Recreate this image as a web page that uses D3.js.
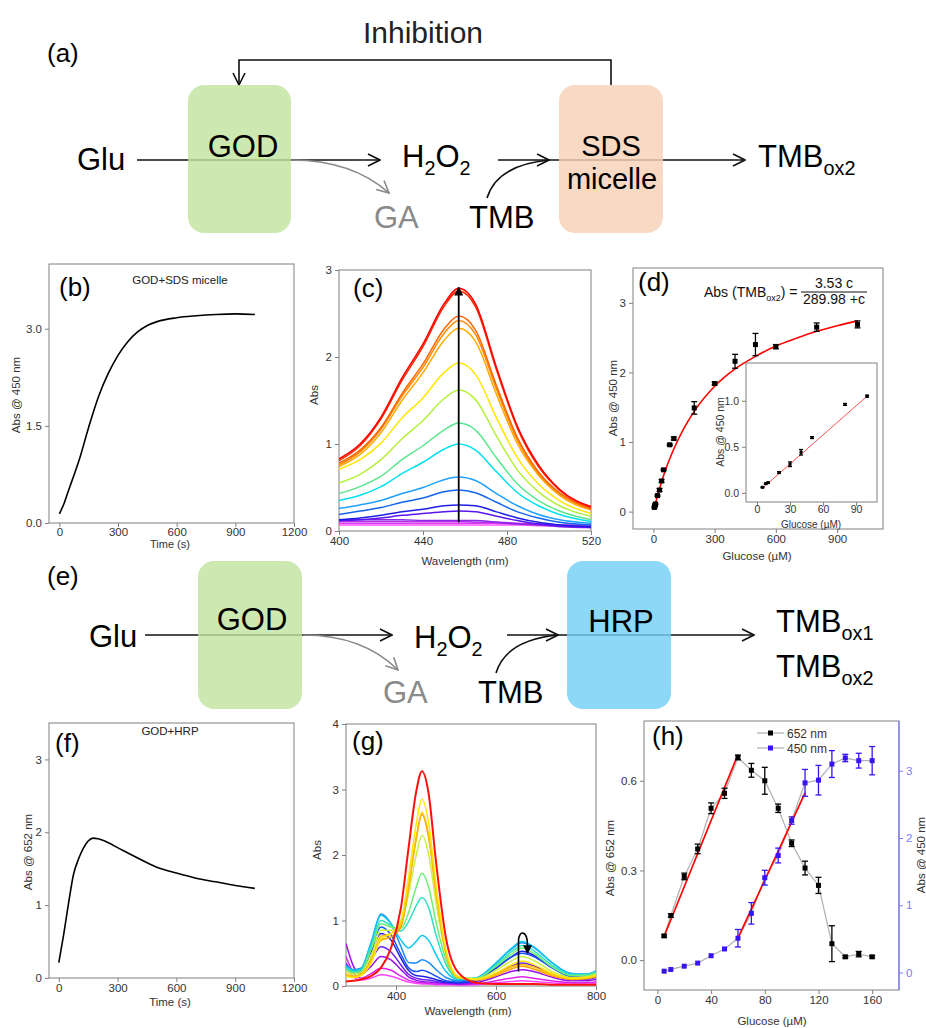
<!DOCTYPE html>
<html>
<head>
<meta charset="utf-8">
<script src="https://cdn.jsdelivr.net/npm/d3@7"></script>
<style>
  body { margin: 0; background: #fff; }
  svg { font-family: "Liberation Sans", Arial, sans-serif; }
</style>
</head>
<body>
<svg id="fig" width="926" height="1028"></svg>
<script>
// ---------- data ----------

// (b) kinetics GOD + SDS micelle, abs @ 450 nm
const bTime = [0, 25, 50, 75, 100, 150, 200, 250, 300, 350, 400, 450, 500, 600, 700, 800, 900, 1000]
const bAbs = [0.14, 0.31, 0.53, 0.74, 0.96, 1.48, 1.95, 2.31, 2.59, 2.8, 2.95, 3.05, 3.11, 3.17, 3.2, 3.22, 3.23, 3.22]

// (c) spectra, highest first
const cWave = [400, 410, 420, 430, 440, 450, 457, 465, 475, 485, 495, 505, 520]
const cSpectra = [
  [0.83, 1.00, 1.31, 1.76, 2.15, 2.61, 2.79, 2.61, 1.88, 1.20, 0.76, 0.48, 0.28],
  [0.81, 0.98, 1.29, 1.73, 2.12, 2.58, 2.76, 2.58, 1.85, 1.18, 0.74, 0.47, 0.27],
  [0.78, 0.93, 1.19, 1.58, 1.92, 2.32, 2.47, 2.31, 1.67, 1.07, 0.68, 0.44, 0.26],
  [0.76, 0.91, 1.17, 1.55, 1.88, 2.27, 2.42, 2.26, 1.63, 1.04, 0.66, 0.43, 0.25],
  [0.74, 0.88, 1.13, 1.50, 1.82, 2.19, 2.33, 2.18, 1.57, 1.00, 0.64, 0.41, 0.24],
  [0.71, 0.82, 1.01, 1.30, 1.53, 1.82, 1.93, 1.80, 1.30, 0.84, 0.54, 0.35, 0.20],
  [0.55, 0.65, 0.82, 1.06, 1.27, 1.52, 1.62, 1.51, 1.09, 0.70, 0.45, 0.29, 0.17],
  [0.43, 0.51, 0.63, 0.82, 0.98, 1.16, 1.24, 1.16, 0.84, 0.54, 0.35, 0.23, 0.13],
  [0.35, 0.41, 0.51, 0.66, 0.79, 0.94, 1.00, 0.93, 0.68, 0.44, 0.29, 0.19, 0.11],
  [0.26, 0.30, 0.35, 0.43, 0.50, 0.59, 0.62, 0.58, 0.43, 0.29, 0.19, 0.13, 0.09],
  [0.19, 0.23, 0.27, 0.33, 0.38, 0.45, 0.47, 0.44, 0.33, 0.22, 0.15, 0.10, 0.07],
  [0.13, 0.15, 0.18, 0.22, 0.25, 0.29, 0.30, 0.29, 0.22, 0.15, 0.10, 0.07, 0.05],
  [0.12, 0.13, 0.15, 0.18, 0.20, 0.22, 0.23, 0.22, 0.17, 0.12, 0.08, 0.06, 0.04],
  [0.13, 0.13, 0.13, 0.13, 0.12, 0.12, 0.12, 0.12, 0.10, 0.08, 0.07, 0.05, 0.04],
  [0.11, 0.11, 0.11, 0.11, 0.11, 0.11, 0.11, 0.10, 0.10, 0.09, 0.08, 0.07, 0.06],
  [0.09, 0.09, 0.09, 0.09, 0.09, 0.09, 0.09, 0.09, 0.09, 0.08, 0.08, 0.07, 0.07],
  [0.07, 0.07, 0.07, 0.07, 0.07, 0.07, 0.07, 0.07, 0.07, 0.07, 0.06, 0.06, 0.06]
]
const cColors = ["#ff0000", "#ff2a00", "#ff6600", "#ff8800", "#ffaa00", "#ffe600", "#b4f03c", "#5ae68c",
  "#00e0f0", "#1ea0ff", "#1464f0", "#1e1ee6", "#5a14f0", "#8c28e6", "#b432e6", "#dc3cf0", "#ff50ff"]

// (d) calibration, abs @ 450 nm vs glucose
const dGlu = [5, 8, 10, 20, 30, 40, 50, 80, 100, 200, 300, 400, 500, 600, 800, 1000]
const dAbs = [0.06, 0.09, 0.11, 0.23, 0.31, 0.44, 0.6, 0.96, 1.05, 1.49, 1.84, 2.16, 2.4, 2.37, 2.65, 2.69]
const dErr = [0.01, 0.01, 0.01, 0.01, 0.02, 0.02, 0.01, 0.01, 0.02, 0.09, 0.02, 0.1, 0.16, 0.03, 0.06, 0.05]
const dFitGlu = [5, 25, 50, 100, 150, 200, 300, 400, 500, 600, 700, 800, 900, 1000]
const dFitAbs = [0.06, 0.28, 0.52, 0.9, 1.2, 1.44, 1.8, 2.05, 2.23, 2.38, 2.49, 2.59, 2.67, 2.74]
const insetGlu = [5, 8, 10, 20, 30, 40, 50, 80, 100]
const insetAbs = [0.06, 0.1, 0.11, 0.22, 0.31, 0.44, 0.6, 0.96, 1.05]
const insetErr = [0.005, 0.005, 0.005, 0.01, 0.025, 0.03, 0.01, 0.01, 0.01]
const insetFitGlu = [5, 100]
const insetFitAbs = [0.05, 1.05]

// (f) kinetics GOD + HRP, abs @ 652 nm
const fTime = [0, 25, 50, 75, 100, 125, 150, 175, 200, 250, 300, 400, 500, 600, 700, 800, 900, 1000]
const fAbs = [0.21, 0.6, 1.03, 1.42, 1.63, 1.78, 1.88, 1.92, 1.91, 1.86, 1.79, 1.65, 1.52, 1.44, 1.37, 1.32, 1.27, 1.23]

// (g) spectra, earliest first
const gWave = [300, 315, 330, 350, 370, 390, 410, 425, 440, 452, 465, 480, 500, 525, 560, 600, 630, 652, 675, 710, 750, 780, 800]
const gSpectra = [
  [0.30, 0.14, 0.09, 0.12, 0.17, 0.15, 0.10, 0.06, 0.04, 0.03, 0.03, 0.02, 0.02, 0.02, 0.02, 0.05, 0.07, 0.08, 0.07, 0.05, 0.03, 0.03, 0.04],
  [0.45, 0.20, 0.12, 0.19, 0.27, 0.24, 0.15, 0.09, 0.06, 0.05, 0.04, 0.03, 0.03, 0.02, 0.03, 0.08, 0.12, 0.14, 0.12, 0.08, 0.05, 0.05, 0.06],
  [0.65, 0.30, 0.18, 0.30, 0.45, 0.40, 0.25, 0.14, 0.09, 0.07, 0.06, 0.05, 0.04, 0.03, 0.05, 0.14, 0.22, 0.25, 0.22, 0.14, 0.08, 0.08, 0.10],
  [0.35, 0.22, 0.20, 0.40, 0.60, 0.52, 0.32, 0.18, 0.12, 0.10, 0.09, 0.07, 0.05, 0.04, 0.07, 0.19, 0.30, 0.35, 0.31, 0.19, 0.10, 0.10, 0.13],
  [0.28, 0.22, 0.24, 0.52, 0.80, 0.70, 0.42, 0.24, 0.16, 0.15, 0.13, 0.10, 0.06, 0.05, 0.09, 0.27, 0.44, 0.53, 0.47, 0.29, 0.15, 0.15, 0.18],
  [0.30, 0.23, 0.25, 0.58, 0.90, 0.78, 0.48, 0.28, 0.22, 0.24, 0.21, 0.15, 0.08, 0.06, 0.10, 0.28, 0.44, 0.50, 0.45, 0.29, 0.15, 0.15, 0.19],
  [0.32, 0.25, 0.27, 0.66, 1.10, 0.95, 0.60, 0.36, 0.35, 0.40, 0.36, 0.25, 0.13, 0.08, 0.12, 0.35, 0.56, 0.66, 0.59, 0.37, 0.19, 0.18, 0.23],
  [0.30, 0.24, 0.26, 0.65, 1.08, 0.95, 0.70, 0.58, 0.68, 0.77, 0.70, 0.48, 0.22, 0.10, 0.12, 0.35, 0.57, 0.68, 0.60, 0.37, 0.19, 0.18, 0.22],
  [0.28, 0.22, 0.24, 0.60, 1.00, 0.92, 0.84, 0.98, 1.22, 1.35, 1.20, 0.78, 0.33, 0.11, 0.12, 0.32, 0.52, 0.62, 0.54, 0.33, 0.17, 0.17, 0.21],
  [0.26, 0.20, 0.22, 0.55, 0.95, 0.90, 0.88, 1.12, 1.50, 1.72, 1.52, 0.98, 0.40, 0.12, 0.12, 0.30, 0.48, 0.58, 0.50, 0.30, 0.16, 0.16, 0.20],
  [0.22, 0.18, 0.20, 0.45, 0.85, 0.85, 0.95, 1.40, 1.98, 2.30, 2.02, 1.28, 0.48, 0.13, 0.11, 0.24, 0.38, 0.45, 0.39, 0.23, 0.13, 0.14, 0.18],
  [0.16, 0.14, 0.17, 0.38, 0.70, 0.75, 0.90, 1.50, 2.22, 2.62, 2.28, 1.43, 0.50, 0.13, 0.09, 0.16, 0.26, 0.30, 0.26, 0.16, 0.10, 0.11, 0.14],
  [0.18, 0.15, 0.18, 0.40, 0.76, 0.80, 0.94, 1.52, 2.25, 2.65, 2.32, 1.45, 0.52, 0.14, 0.10, 0.18, 0.29, 0.33, 0.29, 0.18, 0.11, 0.12, 0.15],
  [0.15, 0.13, 0.16, 0.35, 0.72, 0.80, 1.00, 1.65, 2.45, 2.85, 2.50, 1.55, 0.55, 0.14, 0.10, 0.20, 0.32, 0.38, 0.33, 0.20, 0.12, 0.13, 0.16],
  [0.07, 0.08, 0.10, 0.15, 0.28, 0.58, 1.20, 2.10, 2.95, 3.28, 2.95, 1.90, 0.73, 0.20, 0.05, 0.03, 0.03, 0.03, 0.03, 0.02, 0.02, 0.02, 0.02]
]
const gColors = ["#ff44ff", "#dd22ee", "#9a10f0", "#6a20f5", "#2020e0", "#1850ff", "#1a8cff", "#10c8f0",
  "#30e0c0", "#70ee70", "#c8f040", "#ffa000", "#ffbf00", "#ffe500", "#ff1010"]

// (h) abs @ 652 nm and @ 450 nm vs glucose
const hGlu = [5, 10, 20, 30, 40, 50, 60, 70, 80, 90, 100, 110, 120, 130, 140, 150, 160]
const h652 = [0.081, 0.149, 0.28, 0.372, 0.508, 0.558, 0.678, 0.635, 0.6, 0.508, 0.391, 0.308, 0.25, 0.055, 0.011, 0.02, 0.011]
const h652Err = [0.004, 0.006, 0.011, 0.016, 0.018, 0.017, 0.008, 0.023, 0.045, 0.014, 0.011, 0.023, 0.027, 0.06, 0.004, 0.009, 0.004]
const h450 = [0.02, 0.045, 0.094, 0.14, 0.25, 0.35, 0.51, 0.88, 1.41, 1.74, 2.26, 2.82, 2.86, 3.1, 3.19, 3.15, 3.15]
const h450Err = [0, 0, 0, 0, 0, 0, 0.13, 0.16, 0.11, 0.11, 0.055, 0.2, 0.22, 0.2, 0.055, 0.11, 0.21]
const h652FitGlu = [5, 60]
const h652FitAbs = [0.08, 0.688]
const h450FitGlu = [60, 110]
const h450FitAbs = [0.51, 2.67]
const hLegend = ["652 nm", "450 nm"]

// tick values
const timeTicks = [0, 300, 600, 900, 1200]
const bYTicks = [0, 1.5, 3]
const cXTicks = [400, 440, 480, 520]
const cYTicks = [0, 1, 2, 3]
const dXTicks = [0, 300, 600, 900]
const dYTicks = [0, 1, 2, 3]
const insetXTicks = [0, 30, 60, 90]
const insetYTicks = [0, 0.5, 1]
const fYTicks = [0, 1, 2, 3]
const gXTicks = [400, 600, 800]
const gYTicks = [0, 1, 2, 3, 4]
const hXTicks = [0, 40, 80, 120, 160]
const hYTicks = [0, 0.3, 0.6]
const hY2Ticks = [0, 1, 2, 3]

// ---------- drawing ----------
const svg = d3.select("#fig")
const font = '"Liberation Sans", Arial, sans-serif'
const axisGray = "#808080"
const tickText = "#333"
const blueAxis = "#7878ff"
const blue450 = "#3a14f0"

const defs = svg.append("defs")
function openArrow(id, color) {
  defs.append("marker").attr("id", id)
    .attr("viewBox", "0 0 14 14").attr("refX", 13).attr("refY", 7)
    .attr("markerWidth", 14).attr("markerHeight", 14)
    .attr("markerUnits", "userSpaceOnUse").attr("orient", "auto")
    .append("path").attr("d", "M1,1 L13,7 L1,13")
    .attr("fill", "none").attr("stroke", color).attr("stroke-width", 1.6)
}
openArrow("openBlack", "#111")
openArrow("openGray", "#8a8a8a")
defs.append("marker").attr("id", "tri")
  .attr("viewBox", "0 0 10 10").attr("refX", 9).attr("refY", 5)
  .attr("markerWidth", 9).attr("markerHeight", 9)
  .attr("markerUnits", "userSpaceOnUse").attr("orient", "auto")
  .append("path").attr("d", "M0,0 L10,5 L0,10 Z").attr("fill", "#000")

function styleAxis(a, lineColor, textColor, size) {
  a.attr("font-family", font).attr("font-size", size || 11.5)
  a.select(".domain").remove()
  a.selectAll(".tick line").attr("stroke", lineColor)
  a.selectAll(".tick text").attr("fill", textColor)
}

// frame with outward ticks on bottom and left
function panel(box, x, y, xt, yt, fx, fy, size, pad) {
  const g = svg.append("g")
  g.append("rect")
    .attr("x", box[0]).attr("y", box[1])
    .attr("width", box[2] - box[0]).attr("height", box[3] - box[1])
    .attr("fill", "none").attr("stroke", axisGray).attr("stroke-width", 1)
  const ax = g.append("g").attr("transform", `translate(0,${box[3]})`)
    .call(d3.axisBottom(x).tickValues(xt).tickSize(4).tickPadding(pad == null ? 2 : pad).tickSizeOuter(0).tickFormat(fx || d3.format("d")))
  styleAxis(ax, axisGray, tickText, size)
  const ay = g.append("g").attr("transform", `translate(${box[0]},0)`)
    .call(d3.axisLeft(y).tickValues(yt).tickSize(4).tickPadding(3).tickSizeOuter(0).tickFormat(fy || d3.format("d")))
  styleAxis(ay, axisGray, tickText, size)
  const id = "clip" + Math.round(box[0]) + "_" + Math.round(box[1])
  defs.append("clipPath").attr("id", id).append("rect")
    .attr("x", box[0]).attr("y", box[1]).attr("width", box[2] - box[0]).attr("height", box[3] - box[1])
  const plot = g.append("g").attr("clip-path", `url(#${id})`)
  return { g, plot }
}

function text(x, y, str, size, anchor, color) {
  return svg.append("text").attr("x", x).attr("y", y)
    .attr("font-size", size).attr("text-anchor", anchor || "start")
    .attr("fill", color || "#000").text(str)
}
function yTitle(cx, cy, str, size, color) {
  return svg.append("text")
    .attr("transform", `translate(${cx},${cy}) rotate(-90)`)
    .attr("dy", "0.35em").attr("text-anchor", "middle")
    .attr("font-size", size || 11).attr("fill", color || tickText).text(str)
}
function errorBars(g, xs, ys, es, x, y, color, cap) {
  xs.forEach((v, i) => {
    if (!es[i]) return
    const px = x(v), y0 = y(ys[i] - es[i]), y1 = y(ys[i] + es[i])
    g.append("line").attr("x1", px).attr("x2", px).attr("y1", y0).attr("y2", y1)
      .attr("stroke", color).attr("stroke-width", 1.3)
    ;[y0, y1].forEach(yy => g.append("line")
      .attr("x1", px - cap).attr("x2", px + cap).attr("y1", yy).attr("y2", yy)
      .attr("stroke", color).attr("stroke-width", 1.3))
  })
}
function squares(g, xs, ys, x, y, color, s) {
  g.selectAll(null).data(xs).enter().append("rect")
    .attr("x", (d) => x(d) - s / 2).attr("y", (d, i) => y(ys[i]) - s / 2)
    .attr("width", s).attr("height", s).attr("fill", color)
}
// chemical label with subscripts: parts = [[text, isSub], ...]
function chem(x, y, parts, size, color) {
  const t = svg.append("text").attr("x", x).attr("y", y)
    .attr("font-size", size).attr("fill", color || "#000")
  let down = false
  parts.forEach(p => {
    const s = t.append("tspan").text(p[0])
    if (p[1]) {
      s.attr("font-size", size * 0.64)
      if (!down) { s.attr("dy", size * 0.26); down = true }
    } else if (down) {
      s.attr("dy", -size * 0.26); down = false
    }
  })
  return t
}
function arrowLine(x1, y1, x2, y2, marker, color) {
  svg.append("line").attr("x1", x1).attr("y1", y1).attr("x2", x2).attr("y2", y2)
    .attr("stroke", color || "#111").attr("stroke-width", 1.6)
    .attr("marker-end", marker ? `url(#${marker})` : null)
}
function box(x, y, w, h, fill) {
  svg.append("rect").attr("x", x).attr("y", y).attr("width", w).attr("height", h)
    .attr("rx", 16).attr("ry", 16).attr("fill", fill).attr("fill-opacity", 0.82)
}

// ===== (a) scheme =====
text(47, 62, "(a)", 26)
text(423, 43, "Inhibition", 30, "middle", "#222")
svg.append("path").attr("d", "M611,85 L611,60 L239,60 L239,85")
  .attr("fill", "none").attr("stroke", "#111").attr("stroke-width", 1.6)
  .attr("marker-end", "url(#openBlack)")
arrowLine(137, 160, 380, 160, "openBlack")
arrowLine(498, 160, 549, 160, "openBlack")
arrowLine(549, 160, 745, 160, "openBlack")
svg.append("path").attr("d", "M291,160 Q352,160 389,193")
  .attr("fill", "none").attr("stroke", "#8a8a8a").attr("stroke-width", 1.6).attr("marker-end", "url(#openGray)")
svg.append("path").attr("d", "M487,198 Q497,165 549,160")
  .attr("fill", "none").attr("stroke", "#111").attr("stroke-width", 1.6)
box(188, 85, 103, 148, "#c2e3a0")
box(559, 85, 104, 148, "#f6d1b7")
text(77, 170, "Glu", 31)
text(243, 157, "GOD", 31, "middle")
chem(402, 167, [["H"], ["2", 1], ["O"], ["2", 1]], 31)
text(611, 156, "SDS", 29, "middle")
text(612, 189, "micelle", 29, "middle")
text(374, 228, "GA", 31, "start", "#8a8a8a")
text(469, 228, "TMB", 31)
chem(758, 167, [["TMB"], ["ox2", 1]], 31)

// ===== (e) scheme =====
text(47, 585, "(e)", 26)
arrowLine(145, 635, 392, 635, "openBlack")
arrowLine(507, 635, 558, 635, "openBlack")
arrowLine(558, 635, 754, 635, "openBlack")
svg.append("path").attr("d", "M303,635 Q363,635 398,670")
  .attr("fill", "none").attr("stroke", "#8a8a8a").attr("stroke-width", 1.6).attr("marker-end", "url(#openGray)")
svg.append("path").attr("d", "M496,673 Q506,640 558,635")
  .attr("fill", "none").attr("stroke", "#111").attr("stroke-width", 1.6)
box(198, 561, 104, 148, "#c2e3a0")
box(567, 561, 104, 148, "#74cff4")
text(89, 647, "Glu", 31)
text(252, 630, "GOD", 31, "middle")
chem(414, 648, [["H"], ["2", 1], ["O"], ["2", 1]], 31)
text(621, 632, "HRP", 31, "middle")
text(383, 703, "GA", 31, "start", "#8a8a8a")
text(478, 703, "TMB", 31)
chem(776, 632, [["TMB"], ["ox1", 1]], 31)
chem(776, 677, [["TMB"], ["ox2", 1]], 31)

// ===== (b) =====
{
  const bx = [49, 264, 294, 523]
  const x = d3.scaleLinear().domain([-53, 1200]).range([bx[0], bx[2]])
  const y = d3.scaleLinear().domain([0, 4]).range([bx[3], bx[1]])
  const p = panel(bx, x, y, timeTicks, bYTicks, d3.format("d"), d3.format(".1f"), 11.5, 1)
  p.plot.append("path")
    .attr("d", d3.line().x((d, i) => x(bTime[i])).y(d => y(d)).curve(d3.curveMonotoneX)(bAbs))
    .attr("fill", "none").attr("stroke", "#000").attr("stroke-width", 1.6)
  text(59, 296, "(b)", 26)
  text(180, 284, "GOD+SDS micelle", 11.5, "middle", "#222")
  text(170, 548, "Time (s)", 11, "middle", tickText)
  yTitle(16, 395, "Abs @ 450 nm", 11.5)
}

// ===== (c) =====
{
  const bx = [339, 270, 591, 531]
  const x = d3.scaleLinear().domain([400, 520]).range([bx[0], bx[2]])
  const y = d3.scaleLinear().domain([0, 3]).range([bx[3], bx[1]])
  const p = panel(bx, x, y, cXTicks, cYTicks)
  const line = d3.line().x((d, i) => x(cWave[i])).y(d => y(d)).curve(d3.curveMonotoneX)
  cSpectra.slice().reverse().forEach((s, k) => {
    p.plot.append("path").attr("d", line(s))
      .attr("fill", "none").attr("stroke", cColors[cSpectra.length - 1 - k]).attr("stroke-width", 1.5)
  })
  svg.append("line").attr("x1", x(457)).attr("x2", x(457)).attr("y1", y(0.1)).attr("y2", y(2.8))
    .attr("stroke", "#000").attr("stroke-width", 1.8).attr("marker-end", "url(#tri)")
  text(353, 297, "(c)", 26)
  text(465, 565, "Wavelength (nm)", 11.5, "middle", tickText)
  yTitle(314, 395, "Abs", 11.5)
}

// ===== (d) =====
{
  const bx = [633, 268, 883, 529]
  const x = d3.scaleLinear().domain([-100, 1125]).range([bx[0], bx[2]])
  const y = d3.scaleLinear().domain([-0.25, 3.5]).range([bx[3], bx[1]])
  const p = panel(bx, x, y, dXTicks, dYTicks)
  p.plot.append("path")
    .attr("d", d3.line().x((d, i) => x(dFitGlu[i])).y(d => y(d)).curve(d3.curveMonotoneX)(dFitAbs))
    .attr("fill", "none").attr("stroke", "#ff0000").attr("stroke-width", 1.6)
  errorBars(p.plot, dGlu, dAbs, dErr, x, y, "#000", 3)
  squares(p.plot, dGlu, dAbs, x, y, "#000", 5)
  text(638, 291, "(d)", 26)
  chem(704, 297, [["Abs (TMB"], ["ox2", 1], [") ="]], 14, "#111")
  text(834, 288, "3.53 c", 14, "middle", "#111")
  text(834, 304, "289.98 +c", 14, "middle", "#111")
  svg.append("line").attr("x1", 801).attr("x2", 867).attr("y1", 292).attr("y2", 292)
    .attr("stroke", "#111").attr("stroke-width", 1)
  text(757, 560, "Glucose (\u00b5M)", 11.5, "middle", tickText)
  yTitle(613, 398, "Abs @ 450 nm", 11.5)

  // inset
  const ib = [746, 363, 877, 502]
  const ix = d3.scaleLinear().domain([-10, 109]).range([ib[0], ib[2]])
  const iy = d3.scaleLinear().domain([-0.1, 1.41]).range([ib[3], ib[1]])
  svg.append("rect").attr("x", ib[0]).attr("y", ib[1]).attr("width", ib[2] - ib[0]).attr("height", ib[3] - ib[1])
    .attr("fill", "#fff")
  const ip = panel(ib, ix, iy, insetXTicks, insetYTicks, d3.format("d"), d3.format(".1f"), 10.5, 0)
  ip.plot.append("path")
    .attr("d", d3.line().x((d, i) => ix(insetFitGlu[i])).y(d => iy(d))(insetFitAbs))
    .attr("fill", "none").attr("stroke", "#ff5050").attr("stroke-width", 1)
  errorBars(ip.plot, insetGlu, insetAbs, insetErr, ix, iy, "#000", 2)
  squares(ip.plot, insetGlu, insetAbs, ix, iy, "#000", 3)
  text(811, 528, "Glucose (\u00b5M)", 10, "middle", tickText)
  yTitle(720, 432, "Abs @ 450 nm", 10.5)
}

// ===== (f) =====
{
  const bx = [49, 723, 294, 978]
  const x = d3.scaleLinear().domain([-50, 1200]).range([bx[0], bx[2]])
  const y = d3.scaleLinear().domain([0, 3.5]).range([bx[3], bx[1]])
  const p = panel(bx, x, y, timeTicks, fYTicks)
  p.plot.append("path")
    .attr("d", d3.line().x((d, i) => x(fTime[i])).y(d => y(d)).curve(d3.curveMonotoneX)(fAbs))
    .attr("fill", "none").attr("stroke", "#000").attr("stroke-width", 1.6)
  text(55, 752, "(f)", 26)
  text(170, 735, "GOD+HRP", 11.5, "middle", "#222")
  text(170, 1006, "Time (s)", 11.5, "middle", tickText)
  yTitle(28, 852, "Abs @ 652 nm", 11.5)
}

// ===== (g) =====
{
  const bx = [346, 724, 596, 986]
  const x = d3.scaleLinear().domain([300, 800]).range([bx[0], bx[2]])
  const y = d3.scaleLinear().domain([0, 4]).range([bx[3], bx[1]])
  const p = panel(bx, x, y, gXTicks, gYTicks)
  const line = d3.line().x((d, i) => x(gWave[i])).y(d => y(d)).curve(d3.curveMonotoneX)
  gSpectra.forEach((s, k) => {
    p.plot.append("path").attr("d", line(s))
      .attr("fill", "none").attr("stroke", gColors[k]).attr("stroke-width", k === gSpectra.length - 1 ? 2 : 1.5)
  })
  const arc = d3.path()
  arc.moveTo(x(645), y(0.22))
  arc.lineTo(x(645), y(0.68))
  arc.bezierCurveTo(x(645), y(0.86), x(663), y(0.86), x(663), y(0.62))
  arc.lineTo(x(663), y(0.5))
  svg.append("path").attr("d", arc.toString())
    .attr("fill", "none").attr("stroke", "#000").attr("stroke-width", 1.6).attr("marker-end", "url(#tri)")
  text(352, 750, "(g)", 26)
  text(468, 1015, "Wavelength (nm)", 11.5, "middle", tickText)
  yTitle(317, 850, "Abs", 11.5)
}

// ===== (h) =====
{
  const bx = [644, 721, 899, 990]
  const x = d3.scaleLinear().domain([-10, 180]).range([bx[0], bx[2]])
  const y = d3.scaleLinear().domain([-0.1, 0.8]).range([bx[3], bx[1]])
  const y2 = d3.scaleLinear().domain([-0.26, 3.74]).range([bx[3], bx[1]])
  const p = panel(bx, x, y, hXTicks, hYTicks, d3.format("d"), d3.format(".1f"))
  svg.append("line").attr("x1", bx[2]).attr("x2", bx[2]).attr("y1", bx[1]).attr("y2", bx[3])
    .attr("stroke", blueAxis).attr("stroke-width", 1.2)
  const ar = svg.append("g").attr("transform", `translate(${bx[2]},0)`)
    .call(d3.axisRight(y2).tickValues(hY2Ticks).tickSize(4).tickPadding(3).tickSizeOuter(0).tickFormat(d3.format("d")))
  styleAxis(ar, blueAxis, blueAxis)

  const conn = (ys, sc) => d3.line().x((d, i) => x(hGlu[i])).y(d => sc(d))(ys)
  p.plot.append("path").attr("d", conn(h652, y)).attr("fill", "none").attr("stroke", "#b4b4b4").attr("stroke-width", 1.3)
  p.plot.append("path").attr("d", conn(h450, y2)).attr("fill", "none").attr("stroke", "#b4b4b4").attr("stroke-width", 1.3)
  p.plot.append("path").attr("d", d3.line().x((d, i) => x(h652FitGlu[i])).y(d => y(d))(h652FitAbs))
    .attr("stroke", "#ff0000").attr("stroke-width", 1.7)
  p.plot.append("path").attr("d", d3.line().x((d, i) => x(h450FitGlu[i])).y(d => y2(d))(h450FitAbs))
    .attr("stroke", "#ff0000").attr("stroke-width", 1.7)
  errorBars(p.plot, hGlu, h652, h652Err, x, y, "#000", 3)
  errorBars(p.plot, hGlu, h450, h450Err, x, y2, blue450, 3)
  squares(p.plot, hGlu, h652, x, y, "#000", 5)
  squares(p.plot, hGlu, h450, x, y2, blue450, 5)

  // legend
  const lc = ["#000", blue450]
  hLegend.forEach((s, i) => {
    const ly = 733 + i * 15
    svg.append("line").attr("x1", 757).attr("x2", 784).attr("y1", ly).attr("y2", ly)
      .attr("stroke", "#b4b4b4").attr("stroke-width", 1.3)
    svg.append("rect").attr("x", 768).attr("y", ly - 2.5).attr("width", 5).attr("height", 5).attr("fill", lc[i])
    text(787, ly + 4.5, s, 12, "start", tickText)
  })
  text(652, 745, "(h)", 26)
  text(772, 1025, "Glucose (\u00b5M)", 11.5, "middle", tickText)
  yTitle(610, 858, "Abs @ 652 nm", 11.5)
  yTitle(921, 855, "Abs @ 450 nm", 11.5)
}
</script>
</body>
</html>
